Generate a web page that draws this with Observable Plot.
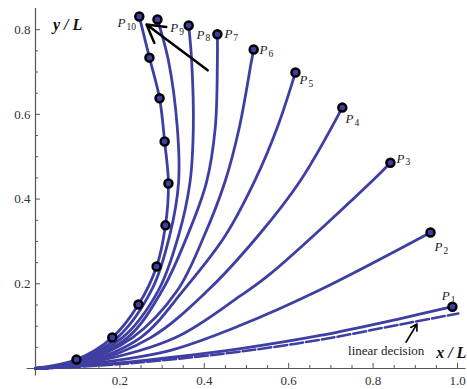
<!DOCTYPE html>
<html><head><meta charset="utf-8">
<script src="https://cdn.jsdelivr.net/npm/d3@7"></script>
<script src="https://cdn.jsdelivr.net/npm/@observablehq/plot@0.6"></script>
<style>body{margin:0;background:#fff} svg text{font-family:"Liberation Serif","Times New Roman",serif}</style>
</head><body><div id="chart"></div>
<script>
// Trajectories from the origin to the end points P1..P10 (x/L, y/L)
const p1  = [[0,0],[0.154,0.009],[0.320,0.026],[0.486,0.047],[0.675,0.078],[0.865,0.118],[0.988,0.146]];
const p2  = [[0,0],[0.154,0.014],[0.320,0.043],[0.486,0.102],[0.671,0.184],[0.936,0.321]];
const p3  = [[0,0],[0.130,0.014],[0.332,0.073],[0.486,0.172],[0.557,0.224],[0.799,0.444],[0.841,0.486]];
const p4  = [[0,0],[0.118,0.012],[0.273,0.073],[0.408,0.184],[0.528,0.314],[0.628,0.444],[0.727,0.616]];
const p5  = [[0,0],[0.107,0.012],[0.249,0.073],[0.350,0.184],[0.450,0.314],[0.520,0.444],[0.573,0.569],[0.616,0.699]];
const p6  = [[0,0],[0.097,0.012],[0.230,0.073],[0.336,0.184],[0.400,0.314],[0.450,0.444],[0.483,0.569],[0.512,0.727],[0.517,0.753]];
const p7  = [[0,0],[0.092,0.012],[0.218,0.073],[0.300,0.184],[0.360,0.314],[0.405,0.439],[0.426,0.569],[0.431,0.727],[0.431,0.789]];
const p8  = [[0,0],[0.088,0.012],[0.206,0.073],[0.291,0.184],[0.339,0.314],[0.366,0.439],[0.374,0.569],[0.370,0.727],[0.363,0.810]];
const p9  = [[0,0],[0.083,0.012],[0.194,0.073],[0.277,0.189],[0.318,0.314],[0.339,0.439],[0.336,0.569],[0.315,0.727],[0.289,0.824]];
const p10 = [[0,0],[0.097,0.021],[0.182,0.073],[0.244,0.151],[0.287,0.241],[0.308,0.338],[0.315,0.437],[0.306,0.536],[0.294,0.638],[0.270,0.734],[0.246,0.831]];
// Linear-decision trajectory (dashed)
const linearDecision = [[0,0],[0.154,0.007],[0.320,0.021],[0.486,0.040],[0.675,0.068],[0.865,0.104],[1.002,0.130]];
// Marked intermediate points along the P10 trajectory
const markedX = [0.097,0.182,0.244,0.287,0.308,0.315,0.306,0.294,0.270];
const markedY = [0.021,0.073,0.151,0.241,0.338,0.437,0.536,0.638,0.734];
// End-point labels
const labelNums = ["1","2","3","4","5","6","7","8","9","10"];
const labelX = [0.972,0.955,0.865,0.744,0.635,0.540,0.457,0.391,0.329,0.204];
const labelY = [0.172,0.288,0.496,0.590,0.682,0.753,0.791,0.789,0.805,0.817];
// Ticks
const xMajor = [0.2,0.4,0.6,0.8,1.0];
const xMinor = [0.05,0.1,0.15,0.25,0.3,0.35,0.45,0.5,0.55,0.65,0.7,0.75,0.85,0.9,0.95];
const yMajor = [0.2,0.4,0.6,0.8];
const yMinor = [0.05,0.1,0.15,0.25,0.3,0.35,0.45,0.5,0.55,0.65,0.7,0.75];
const xTickLabels = ["0.2","0.4","0.6","0.8","1.0"];
const yTickLabels = ["0.2","0.4","0.6","0.8"];
// Annotations
const bigArrow = {x1:0.408, y1:0.704, x2:0.263, y2:0.812};
const noteArrow = {x1:0.878, y1:0.062, x2:0.904, y2:0.105};
const noteText = {x:0.831, y:0.041, text:"linear decision"};

const curves = [p1,p2,p3,p4,p5,p6,p7,p8,p9,p10];
const rows = [];
curves.forEach((pts,i)=>pts.forEach(([x,y])=>rows.push({curve:i+1,x,y})));
const ends = curves.map((pts,i)=>({x:pts[pts.length-1][0], y:pts[pts.length-1][1]}));
const marked = markedX.map((x,i)=>({x, y:markedY[i]}));
const linRows = linearDecision.map(([x,y])=>({x,y}));
const labels = labelNums.map((n,i)=>({n, x:labelX[i], y:labelY[i]}));

const BLUE = "#3f3fa3";
const AX = "#555";
const serif = "Liberation Serif, Times New Roman, serif";

const chart = Plot.plot({
  width: 467, height: 389,
  marginLeft: 35, marginRight: 10, marginTop: 8, marginBottom: 21,
  x: {domain: [0, 1], axis: null},
  y: {domain: [0, 0.85], axis: null},
  style: {fontFamily: serif, background: "white"},
  marks: [
    Plot.ruleY([0], {x1: -0.02, x2: 1.02, stroke: AX, strokeWidth: 1.2}),
    Plot.ruleX([0], {y1: -0.018, y2: 0.85, stroke: AX, strokeWidth: 1.2}),
    Plot.ruleX(xMinor, {x: d=>d, y1: 0, y2: 0.007, stroke: AX}),
    Plot.ruleX(xMajor, {x: d=>d, y1: 0, y2: 0.012, stroke: AX}),
    Plot.ruleY(yMinor, {y: d=>d, x1: 0, x2: 0.007, stroke: AX}),
    Plot.ruleY(yMajor, {y: d=>d, x1: 0, x2: 0.012, stroke: AX}),
    Plot.text(xTickLabels, {x: (d,i)=>xMajor[i], y: 0, text: d=>d, dy: 12, fontSize: 13, fontFamily: serif, fill: "#333"}),
    Plot.text(yTickLabels, {x: 0, y: (d,i)=>yMajor[i], text: d=>d, dx: -5, textAnchor: "end", fontSize: 13, fontFamily: serif, fill: "#333"}),
    Plot.line(rows, {x: "x", y: "y", z: "curve", stroke: BLUE, strokeWidth: 2.8, curve: "catmull-rom", strokeLinecap: "round"}),
    Plot.line(linRows, {x: "x", y: "y", stroke: BLUE, strokeWidth: 2.5, curve: "catmull-rom", strokeDasharray: "13,3"}),
    Plot.dot(marked, {x: "x", y: "y", r: 4, fill: BLUE, stroke: "black", strokeWidth: 2.5}),
    Plot.dot(ends, {x: "x", y: "y", r: 4, fill: BLUE, stroke: "black", strokeWidth: 2.5}),
    Plot.arrow([bigArrow], {x1: "x1", y1: "y1", x2: "x2", y2: "y2", stroke: "black", strokeWidth: 2.5, headLength: 12}),
    Plot.arrow([noteArrow], {x1: "x1", y1: "y1", x2: "x2", y2: "y2", stroke: "black", strokeWidth: 1.6, headLength: 7}),
    Plot.text([noteText], {x: "x", y: "y", text: "text", fontSize: 13, fontFamily: serif, fill: "#222"}),
    Plot.text(labels, {x: "x", y: "y", text: () => "P", fontSize: 13, fontStyle: "italic", fontFamily: serif, textAnchor: "middle", fill: "#222"}),
    Plot.text(labels, {x: "x", y: "y", text: "n", fontSize: 9.5, fontFamily: serif, textAnchor: "start", dx: 5, dy: 4, fill: "#222"}),
    Plot.text(["y / L"], {x: 0.076, y: 0.812, text: d=>d, fontSize: 16, fontWeight: "bold", fontStyle: "italic", fontFamily: serif, fill: "#111"}),
    Plot.text(["x / L"], {x: 1.021, y: 0.038, text: d=>d, textAnchor: "end", fontSize: 16, fontWeight: "bold", fontStyle: "italic", fontFamily: serif, fill: "#111"})
  ]
});
document.getElementById("chart").appendChild(chart);
</script>
</body></html>
